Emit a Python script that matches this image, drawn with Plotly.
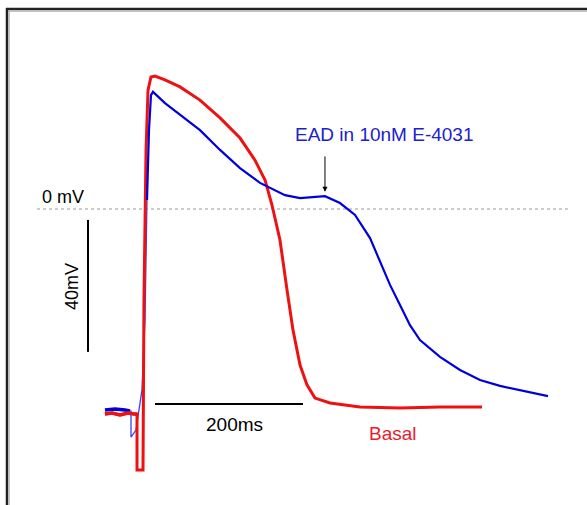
import plotly.graph_objects as go

# Time in ms (0 = upstroke), voltage in mV
basal_t = [-54.1, -44.6, -33.8, -23.0, -14.9, -10.8, -10.8, -2.7, -1.4, 1.4, 4.1, 8.1, 13.5, 27.0, 47.3,
           74.3, 101.4, 128.4, 148.6, 162.2, 171.6, 182.4, 191.9, 200.0, 209.5, 218.9, 229.7, 250.0,
           290.5, 344.6, 398.6, 455.4]
basal_v = [-62.1, -61.8, -62.4, -61.8, -62.1, -62.1, -79.1, -79.1, -27.6, 17.9, 36.1, 40.0, 40.3, 39.1, 37.0,
           33.0, 27.6, 21.5, 14.8, 8.8, 1.2, -9.4, -24.5, -36.7, -47.3, -53.3, -57.3, -58.8,
           -60.0, -60.3, -60.0, -60.0]

ead_base_t = [-54.1, -40.5, -27.0, -20.3, -18.9, -18.9, -12.2, -4.1, 0.0, 2.7]
ead_base_v = [-60.9, -60.6, -60.9, -61.2, -61.2, -69.1, -67.0, -54.8, -33.6, 2.7]

ead_t = [2.7, 5.4, 8.1, 10.8, 27.0, 47.3, 74.3, 101.4, 128.4, 155.4, 168.9, 189.2, 209.5, 229.7, 243.2,
         263.5, 283.8, 304.1, 317.6, 331.1, 344.6, 358.1, 371.6, 398.6, 425.7, 452.7, 479.7, 506.8, 544.6]
ead_v = [2.7, 23.9, 34.5, 35.5, 32.1, 28.5, 23.9, 17.9, 12.4, 7.9, 6.4, 4.2, 3.3, 3.6, 3.9,
         1.8, -1.8, -8.8, -16.1, -23.0, -29.1, -35.2, -39.7, -44.8, -48.8, -51.8, -53.6, -54.8, -56.7]

bar_time = [13.5, 213.5]      # 200 ms
bar_volt = [-3.3, -43.3]      # 40 mV
zero_line_t = [-145.9, 571.6]

RED = "#ee1111"
BLUE = "#0000dd"

fig = go.Figure()
fig.add_trace(go.Scatter(x=zero_line_t, y=[0, 0], mode="lines",
                         line=dict(color="#999999", width=1, dash="dot"), hoverinfo="skip"))
fig.add_trace(go.Scatter(x=ead_base_t, y=ead_base_v, mode="lines",
                         line=dict(color="#3344ee", width=1.3), hoverinfo="skip"))
fig.add_trace(go.Scatter(x=ead_base_t[:4], y=ead_base_v[:4], mode="lines",
                         line=dict(color=BLUE, width=3.5), hoverinfo="skip"))
fig.add_trace(go.Scatter(x=basal_t[:6], y=basal_v[:6], mode="lines",
                         line=dict(color=RED, width=3.5), hoverinfo="skip"))
fig.add_trace(go.Scatter(x=basal_t, y=basal_v, mode="lines",
                         line=dict(color=RED, width=3), hoverinfo="skip"))
fig.add_trace(go.Scatter(x=ead_t, y=ead_v, mode="lines",
                         line=dict(color=BLUE, width=2.2), hoverinfo="skip"))
# scale bars
fig.add_trace(go.Scatter(x=bar_time, y=[-59.1, -59.1], mode="lines",
                         line=dict(color="black", width=2), hoverinfo="skip"))
fig.add_trace(go.Scatter(x=[-77.0, -77.0], y=bar_volt, mode="lines",
                         line=dict(color="black", width=2), hoverinfo="skip"))

font = "Arial, Liberation Sans, sans-serif"
fig.add_annotation(x=-141.9, y=3.6, text="0 mV", showarrow=False, xanchor="left",
                   font=dict(family=font, size=18, color="black"))
fig.add_annotation(x=-98.6, y=-23.6, text="40mV", showarrow=False, textangle=-90,
                   font=dict(family=font, size=18, color="black"))
fig.add_annotation(x=121.6, y=-65.2, text="200ms", showarrow=False,
                   font=dict(family=font, size=19, color="black"))
fig.add_annotation(x=335.0, y=-67.9, text="Basal", showarrow=False,
                   font=dict(family=font, size=19, color="#e8202c"))
fig.add_annotation(x=324.3, y=22.7, text="EAD in 10nM E-4031", showarrow=False,
                   font=dict(family=font, size=19, color="#2020cc"))
fig.add_annotation(x=243.2, y=5.2, ax=243.2, ay=16.4, axref="x", ayref="y", xref="x", yref="y",
                   text="", showarrow=True, arrowhead=2, arrowsize=1, arrowwidth=1, arrowcolor="black")

# frame (outer dark line with a lighter grey inner line)
fig.add_shape(type="line", xref="paper", yref="paper", x0=7/587, x1=7/587, y0=0, y1=1-8/505,
              line=dict(color="#222222", width=2.5))
fig.add_shape(type="line", xref="paper", yref="paper", x0=6/587, x1=1, y0=1-9/505, y1=1-9/505,
              line=dict(color="#222222", width=2.5))
fig.add_shape(type="line", xref="paper", yref="paper", x0=9.2/587, x1=9.2/587, y0=0, y1=1-11/505,
              line=dict(color="#aaaaaa", width=1))
fig.add_shape(type="line", xref="paper", yref="paper", x0=9.2/587, x1=1, y0=1-11.2/505, y1=1-11.2/505,
              line=dict(color="#aaaaaa", width=1))

fig.update_layout(width=587, height=505, margin=dict(l=0, r=0, t=0, b=0),
                  paper_bgcolor="white", plot_bgcolor="white", showlegend=False,
                  xaxis=dict(range=[-145/0.74, (587-145)/0.74], visible=False, fixedrange=True),
                  yaxis=dict(range=[(209-505)/3.3, 209/3.3], visible=False, fixedrange=True))
fig.write_html("out.html", config={"displayModeBar": False},
               post_script="document.body.style.margin='0';")
